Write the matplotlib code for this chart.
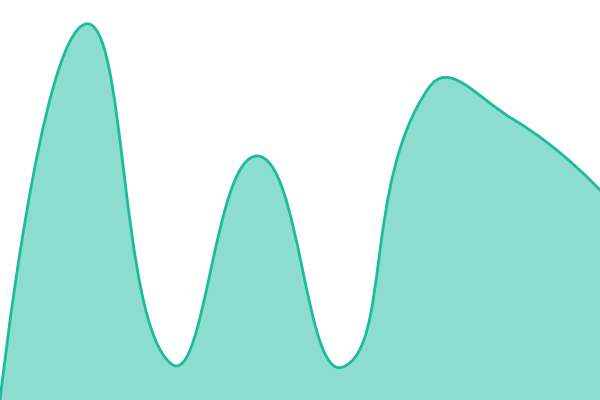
import numpy as np
import matplotlib
matplotlib.use("Agg")
import matplotlib.pyplot as plt
from matplotlib.path import Path
from matplotlib.patches import PathPatch
from matplotlib.transforms import IdentityTransform

# data (one value per category, category axis without labels)
categories = ["A", "B", "C", "D", "E", "F", "G", "H"]
values = [0, 376, 36, 244, 33, 312, 280, 210]

LINE = "#1abc9c"
SMOOTH = 0.5


def smooth_path(pts, smooth=SMOOTH):
    # bezier smoothing like echarts' smooth line, done in pixel space
    verts = [tuple(pts[0])]
    codes = [Path.MOVETO]
    n = len(pts)
    cps = []
    for i in range(n):
        p = pts[i]
        prev = pts[i - 1] if i > 0 else p
        nxt = pts[i + 1] if i < n - 1 else p
        v = nxt - prev
        d0 = np.hypot(*(p - prev))
        d1 = np.hypot(*(nxt - p))
        tot = d0 + d1
        r = d1 / tot if tot > 0 else 0.5
        cin = p - v * smooth * (1 - r)
        cout = p + v * smooth * r
        cps.append((cin, cout))
    for i in range(n - 1):
        c0 = cps[i][1] if i > 0 else pts[i]
        c1 = cps[i + 1][0] if i + 1 < n - 1 else pts[i + 1]
        verts += [tuple(c0), tuple(c1), tuple(pts[i + 1])]
        codes += [Path.CURVE4] * 3
    return verts, codes


fig = plt.figure(figsize=(6, 4), dpi=100)
ax = fig.add_axes([0, 0, 1, 1])
ax.set_xlim(0, len(categories) - 1)
ax.set_ylim(0, 400)
ax.axis("off")

xs = np.arange(len(categories))
pts = ax.transData.transform(np.column_stack([xs, values]))
verts, codes = smooth_path(pts)

base = ax.transData.transform([[xs[-1], 0], [xs[0], 0]])
fill_verts = verts + [tuple(base[0]), tuple(base[1]), verts[0]]
fill_codes = codes + [Path.LINETO, Path.LINETO, Path.CLOSEPOLY]

ax.add_patch(PathPatch(Path(fill_verts, fill_codes), transform=IdentityTransform(),
                       facecolor=LINE, alpha=0.5, edgecolor="none"))
ax.add_patch(PathPatch(Path(verts, codes), transform=IdentityTransform(),
                       facecolor="none", edgecolor=LINE, lw=2.0, capstyle="round"))

fig.savefig("out.png", dpi=100)
